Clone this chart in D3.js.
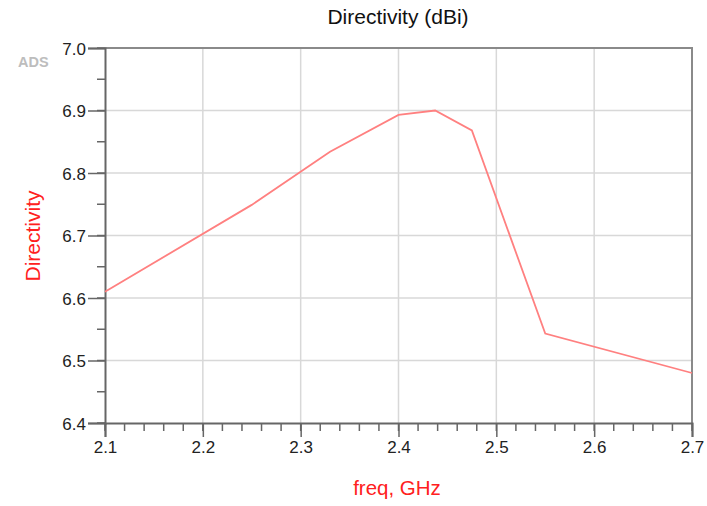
<!DOCTYPE html>
<html>
<head>
<meta charset="utf-8">
<script src="https://cdn.jsdelivr.net/npm/d3@7"></script>
<style>
  body { margin: 0; background: #fff; }
  svg { display: block; font-family: "Liberation Sans", Arial, sans-serif; }
</style>
</head>
<body>
<svg id="chart" width="707" height="506"></svg>
<script>
// Directivity sweep over frequency
const freqGHz     = [2.1, 2.25, 2.33, 2.4, 2.4375, 2.475, 2.55, 2.7];
const directivity = [6.610, 6.749, 6.834, 6.893, 6.900, 6.868, 6.543, 6.480];

const xTicks = [2.1, 2.2, 2.3, 2.4, 2.5, 2.6, 2.7];
const yTicks = [6.4, 6.5, 6.6, 6.7, 6.8, 6.9, 7.0];
const xMinor = d3.range(2.1, 2.7001, 0.02);
const yMinor = d3.range(6.4, 7.0001, 0.05);

const svg = d3.select("#chart");
const m = { left: 105, right: 692, top: 48, bottom: 423 };

const x = d3.scaleLinear().domain([2.1, 2.7]).range([m.left, m.right]);
const y = d3.scaleLinear().domain([6.4, 7.0]).range([m.bottom, m.top]);

// grid
svg.append("g").selectAll("line").data(xTicks.slice(1, -1)).join("line")
  .attr("x1", d => x(d)).attr("x2", d => x(d))
  .attr("y1", m.top).attr("y2", m.bottom)
  .attr("stroke", "#d8d8d8").attr("stroke-width", 1.5);
svg.append("g").selectAll("line").data(yTicks.slice(1, -1)).join("line")
  .attr("x1", m.left).attr("x2", m.right)
  .attr("y1", d => y(d)).attr("y2", d => y(d))
  .attr("stroke", "#d8d8d8").attr("stroke-width", 1.5);

// top and right frame
svg.append("path")
  .attr("d", `M${m.left},${m.top}H${m.right}V${m.bottom}`)
  .attr("fill", "none").attr("stroke", "#8a8a8a").attr("stroke-width", 2);

// minor ticks
svg.append("g").selectAll("line").data(xMinor).join("line")
  .attr("x1", d => x(d)).attr("x2", d => x(d))
  .attr("y1", m.bottom).attr("y2", m.bottom + 8)
  .attr("stroke", "#666").attr("stroke-width", 1.5);
svg.append("g").selectAll("line").data(yMinor).join("line")
  .attr("x1", m.left - 8).attr("x2", m.left)
  .attr("y1", d => y(d)).attr("y2", d => y(d))
  .attr("stroke", "#666").attr("stroke-width", 1.5);

// axes
const xAxis = d3.axisBottom(x).tickValues(xTicks).tickFormat(d3.format(".1f"))
  .tickSize(14).tickPadding(4);
const yAxis = d3.axisLeft(y).tickValues(yTicks).tickFormat(d3.format(".1f"))
  .tickSize(17).tickPadding(2);

const gx = svg.append("g").attr("transform", `translate(0,${m.bottom})`).call(xAxis);
const gy = svg.append("g").attr("transform", `translate(${m.left},0)`).call(yAxis);
[gx, gy].forEach(g => {
  g.select(".domain").attr("stroke", "#666").attr("stroke-width", 2);
  g.selectAll(".tick line").attr("stroke", "#666").attr("stroke-width", 1.5);
  g.selectAll(".tick text").attr("fill", "#222").attr("font-size", 17)
    .attr("font-family", "'Liberation Sans', Arial, sans-serif");
});
gy.selectAll(".tick text").attr("dy", "0.36em");
gx.selectAll(".tick text").attr("dy", "0.68em");

// series
svg.append("path")
  .datum(freqGHz.map((f, i) => [f, directivity[i]]))
  .attr("fill", "none")
  .attr("stroke", "#ff8080").attr("stroke-width", 1.8)
  .attr("d", d3.line().x(d => x(d[0])).y(d => y(d[1])));

// labels
svg.append("text").attr("x", 398).attr("y", 24)
  .attr("text-anchor", "middle").attr("font-size", 21).attr("fill", "#111")
  .text("Directivity (dBi)");
svg.append("text").attr("x", 397).attr("y", 495)
  .attr("text-anchor", "middle").attr("font-size", 20.5).attr("fill", "#ff2020")
  .text("freq, GHz");
svg.append("text")
  .attr("transform", `translate(40,236) rotate(-90)`)
  .attr("text-anchor", "middle").attr("font-size", 21).attr("fill", "#ff2020")
  .text("Directivity");
svg.append("text").attr("x", 18).attr("y", 67)
  .attr("font-size", 14.5).attr("font-weight", "bold").attr("fill", "#bdbdbd")
  .text("ADS");
</script>
</body>
</html>
